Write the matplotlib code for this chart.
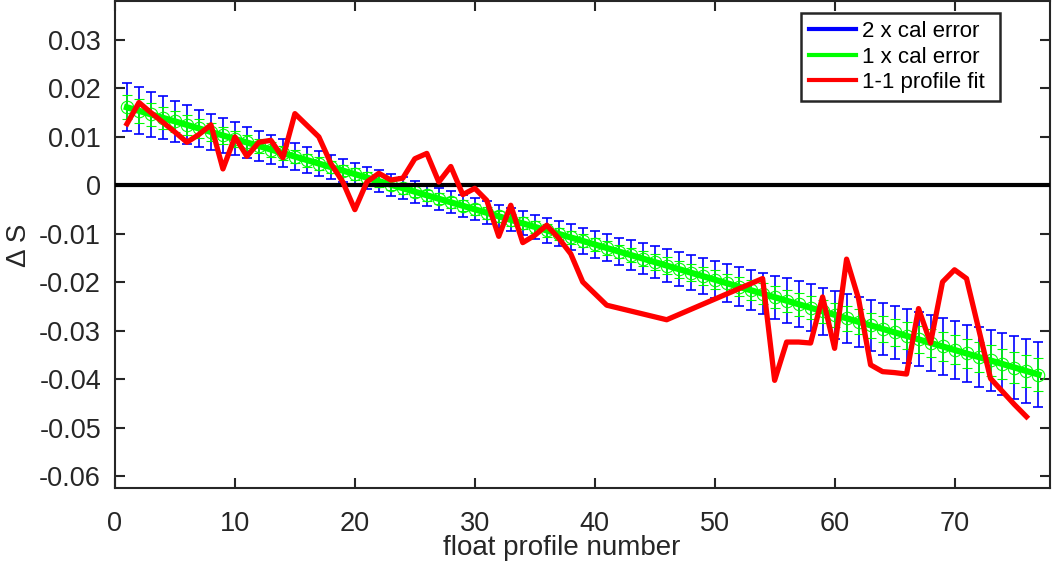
import matplotlib
matplotlib.use('Agg')
import matplotlib.pyplot as plt
from matplotlib.lines import Line2D

# calibration fit per float profile
profile = list(range(1, 78))
cal_fit = [0.01610, 0.01538, 0.01465, 0.01393, 0.01320, 0.01248, 0.01175, 0.01103, 0.01030, 0.00958,
           0.00885, 0.00813, 0.00740, 0.00668, 0.00595, 0.00523, 0.00450, 0.00378, 0.00305, 0.00233,
           0.00160, 0.00088, 0.00015, -0.00058, -0.00130, -0.00203, -0.00275, -0.00348, -0.00420, -0.00493,
           -0.00565, -0.00638, -0.00710, -0.00783, -0.00855, -0.00928, -0.01000, -0.01073, -0.01145, -0.01218,
           -0.01290, -0.01363, -0.01435, -0.01508, -0.01580, -0.01653, -0.01725, -0.01798, -0.01870, -0.01943,
           -0.02015, -0.02088, -0.02160, -0.02233, -0.02305, -0.02378, -0.02450, -0.02523, -0.02595, -0.02668,
           -0.02740, -0.02813, -0.02885, -0.02958, -0.03030, -0.03103, -0.03175, -0.03248, -0.03320, -0.03393,
           -0.03465, -0.03538, -0.03610, -0.03683, -0.03755, -0.03828, -0.03900]
cal_err = [0.00247, 0.00242, 0.00231, 0.00221, 0.00211, 0.00200, 0.00195, 0.00185, 0.00180, 0.00170,
           0.00164, 0.00154, 0.00149, 0.00144, 0.00139, 0.00134, 0.00129, 0.00123, 0.00118, 0.00118,
           0.00113, 0.00113, 0.00113, 0.00113, 0.00113, 0.00113, 0.00113, 0.00113, 0.00113, 0.00113,
           0.00118, 0.00118, 0.00118, 0.00123, 0.00123, 0.00129, 0.00129, 0.00134, 0.00134, 0.00139,
           0.00139, 0.00144, 0.00154, 0.00159, 0.00164, 0.00170, 0.00175, 0.00180, 0.00185, 0.00190,
           0.00195, 0.00200, 0.00206, 0.00211, 0.00221, 0.00231, 0.00236, 0.00242, 0.00242, 0.00247,
           0.00252, 0.00257, 0.00262, 0.00267, 0.00272, 0.00278, 0.00278, 0.00288, 0.00293, 0.00298,
           0.00298, 0.00308, 0.00314, 0.00319, 0.00324, 0.00329, 0.00334]

# 1-1 profile fit (profiles 42-45 and 47-53 missing)
fit_x = list(range(1, 42)) + [46] + list(range(54, 77))
fit_ds = [0.0127, 0.0171, 0.0150, 0.0130, 0.0110, 0.0089, 0.0105, 0.0125, 0.0034, 0.0100,
          0.0060, 0.0089, 0.0093, 0.0057, 0.0148, 0.0124, 0.0100, 0.0045, 0.0007, -0.0050,
          0.0007, 0.0025, 0.0011, 0.0015, 0.0055, 0.0066, 0.0007, 0.0039, -0.0019, -0.0006,
          -0.0031, -0.0105, -0.0041, -0.0118, -0.0103, -0.0082, -0.0109, -0.0141, -0.0199, -0.0223,
          -0.0247, -0.0277, -0.0192, -0.0402, -0.0323, -0.0323, -0.0325, -0.0230, -0.0336, -0.0152,
          -0.0234, -0.0370, -0.0384, -0.0386, -0.0389, -0.0254, -0.0325, -0.0199, -0.0174, -0.0192,
          -0.0295, -0.0398, -0.0425, -0.0452, -0.0477]

yticks = [-0.06, -0.05, -0.04, -0.03, -0.02, -0.01, 0, 0.01, 0.02, 0.03]
ytick_labels = ['-0.06', '-0.05', '-0.04', '-0.03', '-0.02', '-0.01', '0', '0.01', '0.02', '0.03']

plt.rcParams['font.family'] = ['Liberation Sans', 'DejaVu Sans']
plt.rcParams['axes.unicode_minus'] = False
dark = '#262626'

fig = plt.figure(figsize=(10.53, 5.65), dpi=100)
ax = fig.add_axes([0.1092, 0.1354, 0.8884, 0.8626])

err2 = [2 * e for e in cal_err]
ax.errorbar(profile, cal_fit, yerr=err2, color='b', lw=1.0, elinewidth=1.2, capsize=3.6, capthick=1.2, zorder=2)
ax.errorbar(profile, cal_fit, yerr=cal_err, color='#00ff00', lw=4.5, elinewidth=1.2, capsize=3.6, capthick=1.2,
            marker='o', ms=9, mfc='none', mec='#00ff00', mew=0.8, zorder=3)
ax.axhline(0, color='k', lw=3, zorder=4)
ax.plot(fit_x, fit_ds, color='r', lw=3.8, zorder=5)

ax.set_xlim(0, 78)
ax.set_ylim(-0.0625, 0.038)
ax.set_xticks(range(0, 80, 10))
ax.set_yticks(yticks)
ax.set_yticklabels(ytick_labels)
ax.tick_params(direction='in', top=True, right=True, length=7, width=1.5, labelsize=19.5,
               colors=dark)
ax.tick_params(axis='x', pad=16)
ax.tick_params(axis='y', pad=10)
for s in ax.spines.values():
    s.set_linewidth(1.5)
    s.set_color(dark)
ax.set_xlabel('float profile number', fontsize=20, color=dark)
ax.xaxis.set_label_coords(0.477, -0.122, transform=ax.transAxes)
ax.xaxis.label.set_va('center')
ax.set_ylabel('Δ S', fontsize=20, color=dark, labelpad=5)

handles = [Line2D([], [], color='b', lw=3),
           Line2D([], [], color='#00ff00', lw=3),
           Line2D([], [], color='r', lw=3)]
leg = ax.legend(handles, ['2 x cal error  ', '1 x cal error  ', '1-1 profile fit '],
                loc='upper right', bbox_to_anchor=(0.946, 0.975), borderaxespad=0,
                fontsize=16, handlelength=2.1, handletextpad=0.3, labelspacing=0.2,
                borderpad=0.35, fancybox=False, framealpha=1)
leg.get_frame().set_edgecolor(dark)
leg.get_frame().set_linewidth(1.8)

fig.savefig('out.png', dpi=100)
